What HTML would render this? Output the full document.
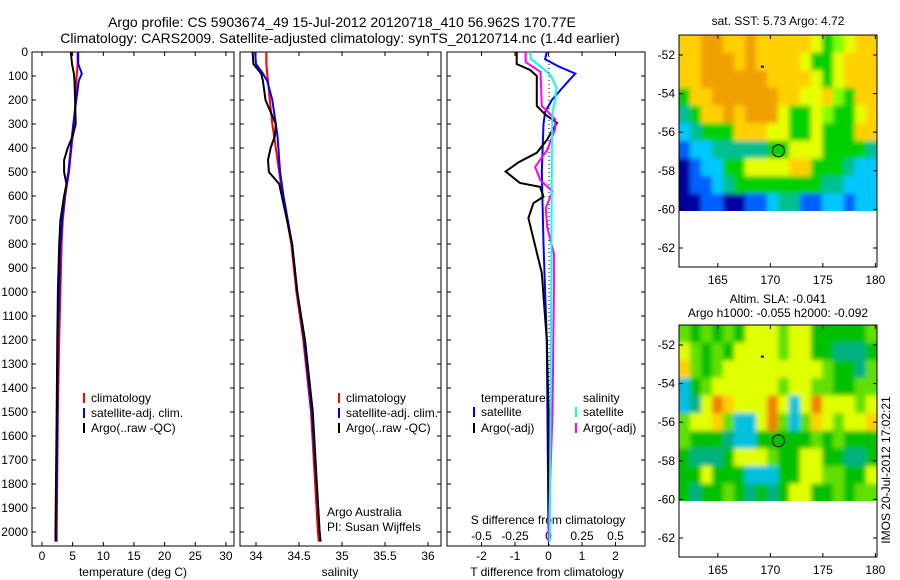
<!DOCTYPE html>
<html><head><meta charset="utf-8"><style>
body{margin:0;background:#fff}
svg{display:block;font-family:"Liberation Sans",sans-serif}
</style></head><body>
<svg id="s" width="900" height="580" viewBox="0 0 900 580">
<defs>
<filter id="bl" x="-5%" y="-5%" width="110%" height="110%"><feGaussianBlur stdDeviation="2.5"/></filter>
<clipPath id="c1"><rect x="679" y="35" width="198" height="176"/></clipPath>
<clipPath id="c2"><rect x="679" y="325" width="198" height="176"/></clipPath>
</defs>
<text x="342" y="27" font-size="14" text-anchor="middle">Argo profile: CS 5903674_49 15-Jul-2012 20120718_410 56.962S 170.77E</text>
<text x="340" y="43" font-size="14" text-anchor="middle">Climatology: CARS2009. Satellite-adjusted climatology: synTS_20120714.nc (1.4d earlier)</text>
</svg>
<script>
// ---- data ----
const depthTS=[0,50,90,120,200,300,350,400,450,500,550,600,700,800,1000,1200,1500,2000,2040];
const tempClim=[5.8,5.8,5.7,5.6,5.5,5.2,5.0,4.8,4.6,4.4,4.1,3.8,3.4,3.2,3.0,2.8,2.6,2.4,2.4];
const tempSat=[5.9,5.9,6.5,6.0,5.6,5.1,4.9,4.7,4.5,4.3,4.0,3.7,3.3,3.0,2.8,2.6,2.5,2.3,2.3];
const tempArgo=[4.7,4.9,5.2,5.3,5.4,5.5,5.0,4.2,3.6,3.6,4.0,3.6,3.0,2.8,2.6,2.5,2.4,2.2,2.2];
const salClim=[34.12,34.12,34.13,34.14,34.16,34.19,34.21,34.23,34.25,34.27,34.29,34.31,34.36,34.41,34.47,34.55,34.64,34.72,34.73];
const salSat=[33.99,34.00,34.08,34.13,34.19,34.23,34.25,34.26,34.27,34.28,34.30,34.32,34.37,34.42,34.48,34.56,34.65,34.74,34.75];
const salArgo=[33.96,33.97,34.06,34.08,34.11,34.23,34.22,34.17,34.14,34.15,34.27,34.30,34.36,34.42,34.48,34.57,34.66,34.74,34.75];
const depthSatT=[0,30,60,90,120,160,200,250,300,500,800,1200,2000,2040];
const diffSatT=[-0.05,-0.1,0.3,0.8,0.6,0.35,0.1,-0.1,-0.15,-0.2,-0.15,-0.05,0,0];
const depthArgoT=[0,50,75,100,225,260,295,330,367,420,460,498,546,562,603,630,692,921,1200,1500,2000,2040];
const diffArgoT=[-0.95,-0.95,-0.55,-0.35,-0.35,-0.1,0.25,0.1,-0.05,-0.35,-0.9,-1.28,-0.85,-0.25,-0.15,-0.45,-0.6,-0.2,-0.05,0,0,0];
const depthSatS=[0,30,60,100,150,200,250,400,1000,2000,2040];
const diffSatS=[-0.14,-0.13,-0.06,0.02,0.06,0.05,0.03,0.025,0.02,0.01,0.01];
const depthArgoS=[0,42,83,225,280,320,408,479,535,580,650,730,840,1000,1500,2000,2040];
const diffArgoS=[-0.17,-0.17,-0.06,-0.05,0.05,0.05,-0.01,-0.1,-0.06,0.03,-0.02,-0.01,0.04,0.04,0.03,0,0];
const depthTicks=[0,100,200,300,400,500,600,700,800,900,1000,1100,1200,1300,1400,1500,1600,1700,1800,1900,2000];
const tempTicks=[0,5,10,15,20,25,30];
const salTicks=[34,34.5,35,35.5,36];
const tdTicks=[-2,-1,0,1,2];
const sdTicks=[-0.5,-0.25,0,0.25,0.5];
const lonTicks=[165,170,175,180];
const latTicks=[-52,-54,-56,-58,-60,-62];
const sstGrid=["YYOOYYOYYYYYyGgyYY","YYOOOYOYYYYyGGyYYY","YYOOOOOOYYYYyGyYYY","GYYOOOOOOYYyyYgGYY","TGYYOYOOOyGGygGGyY","CTGGGYYYyyGGyGGGYY","BCCTTTTTGGyyyGGGGT","NBCCGGyyyyYYGGGTCC","NBBCTGGGGGGGGTTCCC","NNBBNNBBCTTBBCCBCC"];
const slaGrid=["gGgGgGyyygyyGGGGGg","ygGgGyyyygyyGGTTTG","YgGgyyyyyyyyygGGTg","CGgyyyyyygyyggGGgg","CTyOYyyyOyCyOyyygy","gyyYgCCyOgCgYygyyY","gGGGTCCGGGGGgGgGGG","GTTTGyyygGGyyGGTTG","GGyGGGCCCGGyyggGGy","GTGGgGTGTGyyGGgGgg"];
const floatLon=170.77, floatLat=-56.962;

const S=document.getElementById('s');const NS='http://www.w3.org/2000/svg';
function mk(t,a,txt,par){const e=document.createElementNS(NS,t);for(const k in a)e.setAttribute(k,a[k]);if(txt!==undefined&&txt!==null)e.textContent=txt;(par||S).appendChild(e);return e;}
const Y0=52,Ys=0.24,BOT=546;
const yD=d=>Y0+d*Ys;
function panel(x0,x1,name){
  const b=mk('rect',{x:x0,y:Y0,width:x1-x0,height:BOT-Y0,fill:'none',stroke:'#000','stroke-width':1});
  
  depthTicks.forEach(d=>{mk('line',{x1:x0,x2:x0+4,y1:yD(d),y2:yD(d),stroke:'#000'});mk('line',{x1:x1,x2:x1-4,y1:yD(d),y2:yD(d),stroke:'#000'});});
}
function line(xs,ds,fx,col,w,name){
  const p=xs.map((v,i)=>fx(v).toFixed(1)+','+yD(ds[i]).toFixed(1)).join(' ');
  const e=mk('polyline',{points:p,fill:'none',stroke:col,'stroke-width':w});
  
}
function xt(vals,fx,y,lab,name){vals.forEach(v=>{const x=fx(v);mk('line',{x1:x,x2:x,y1:BOT,y2:BOT-4,stroke:'#000'});mk('line',{x1:x,x2:x,y1:Y0,y2:Y0+4,stroke:'#000'});
 const t=mk('text',{x:x,y:y,'font-size':12,'text-anchor':'middle'},lab?lab(v):String(v));});}
// panel 1
const fT=v=>42+6.13*v;
panel(32,234,'temperature-axes');
depthTicks.forEach(d=>{const t=mk('text',{x:28,y:yD(d)+4,'font-size':12,'text-anchor':'end'},String(d));});
xt(tempTicks,fT,560,null,'temp-tick-label');
line(tempClim,depthTS,fT,'#f00',2,'temp-climatology-line');
line(tempSat,depthTS,fT,'#00f',2,'temp-satellite-line');
line(tempArgo,depthTS,fT,'#000',2,'temp-argo-line');
mk('text',{x:133,y:576,'font-size':12,'text-anchor':'middle'},'temperature (deg C)');
// panel 2
const fS=v=>256+86*(v-34);
panel(240,441,'salinity-axes');
xt(salTicks,fS,560,null,'sal-tick-label');
line(salClim,depthTS,fS,'#f00',2,'sal-climatology-line');
line(salSat,depthTS,fS,'#00f',2,'sal-satellite-line');
line(salArgo,depthTS,fS,'#000',2,'sal-argo-line');
mk('text',{x:340,y:576,'font-size':12,'text-anchor':'middle'},'salinity');
mk('text',{x:327,y:516,'font-size':12},'Argo Australia');
mk('text',{x:327,y:531,'font-size':12},'PI: Susan Wijffels');
// panel 3
const fTd=v=>548.5+33.5*v, fSd=v=>548.5+134*v;
panel(447,645,'difference-axes');
xt(tdTicks,fTd,560,null,'tdiff-tick-label');
sdTicks.forEach(v=>{const t=mk('text',{x:fSd(v),y:540,'font-size':12,'text-anchor':'middle'},String(v));});
mk('text',{x:548,y:524,'font-size':12,'text-anchor':'middle'},'S difference from climatology');
mk('text',{x:547,y:576,'font-size':12,'text-anchor':'middle'},'T difference from climatology');
mk('line',{x1:549,x2:549,y1:Y0,y2:BOT,stroke:'#000','stroke-dasharray':'1,3'});
line(diffSatT,depthSatT,fTd,'#00f',2,'tdiff-satellite-line');
line(diffArgoT,depthArgoT,fTd,'#000',2,'tdiff-argo-line');
line(diffArgoS,depthArgoS,fSd,'#f0f',2,'sdiff-argo-line');
line(diffSatS,depthSatS,fSd,'#0ff',2,'sdiff-satellite-line');
// legends
function leg(x,y,col,txt){mk('line',{x1:x,x2:x,y1:y-9,y2:y+1,stroke:col,'stroke-width':2});const t=mk('text',{x:x+7,y:y,'font-size':12},txt);}
[84,339].forEach(lx=>{leg(lx,402,'#f00','climatology');leg(lx,417,'#00f','satellite-adj. clim.');leg(lx,432,'#000','Argo(..raw -QC)');});
mk('text',{x:481,y:402,'font-size':12},'temperature');mk('text',{x:583,y:402,'font-size':12},'salinity');
leg(474,416,'#00f','satellite');leg(474,432,'#000','Argo(-adj)');
leg(576,416,'#0ff','satellite');leg(576,432,'#f0f','Argo(-adj)');
// maps
const COL1={O:'#f0a000',Y:'#ffd000',y:'#e6ff00',G:'#00d000',g:'#80ff00',T:'#00c090',C:'#00c8ff',B:'#0060ff',N:'#0000a0'};
const COL2={O:'#f08000',Y:'#ffd000',y:'#e0ff00',G:'#00c000',g:'#60e000',T:'#00b080',C:'#00c0e0',B:'#0080ff'};
function map(top,grid,cols,name,clip){
  const fx=v=>679+(v-161.3)*10.5, fy=v=>top+20+(-52-v)*19.3;
  const nr=grid.length,nc=grid[0].length;const x0=679,x1=877,y0=top,y1=fy(-60.1);
  const cg=mk('g',{'clip-path':'url(#'+clip+')'});
  const g=mk('g',{filter:'url(#bl)'},null,cg);
  
  
  for(let r=0;r<nr;r++)for(let c=0;c<nc;c++){mk('rect',{x:x0+c*(x1-x0)/nc-(c==0?6:0),y:y0+r*(y1-y0)/nr-(r==0?6:0),width:(x1-x0)/nc+0.5+(c==0||c==nc-1?6:0),height:(y1-y0)/nr+0.5+(r==0||r==nr-1?6:0),fill:cols[grid[r][c]]},null,g);}
  const b=mk('rect',{x:679,y:top,width:198,height:232,fill:'none',stroke:'#000'});
  lonTicks.forEach(v=>{const x=fx(v);mk('line',{x1:x,x2:x,y1:top,y2:top+4,stroke:'#000'});mk('line',{x1:x,x2:x,y1:top+232,y2:top+228,stroke:'#000'});mk('text',{x:x,y:top+249,'font-size':12,'text-anchor':'middle'},String(v));});
  latTicks.forEach(v=>{const y=fy(v);mk('line',{x1:679,x2:683,y1:y,y2:y,stroke:'#000'});mk('line',{x1:877,x2:873,y1:y,y2:y,stroke:'#000'});mk('text',{x:675,y:y+4,'font-size':12,'text-anchor':'end'},String(v));});
  const c=mk('circle',{cx:fx(floatLon),cy:fy(floatLat),r:6,fill:'none',stroke:'#000'});
  mk('rect',{x:fx(169.1),y:fy(-52.55),width:3,height:2,fill:'#000'});
}
map(35,sstGrid,COL1,'sst-map','c1');
map(325,slaGrid,COL2,'sla-map','c2');
mk('text',{x:778,y:25,'font-size':12,'text-anchor':'middle'},'sat. SST: 5.73 Argo: 4.72');
mk('text',{x:778,y:303,'font-size':12,'text-anchor':'middle'},'Altim. SLA: -0.041');
mk('text',{x:778,y:317,'font-size':12,'text-anchor':'middle'},'Argo h1000: -0.055 h2000: -0.092');
mk('text',{x:890,y:470,'font-size':12,'text-anchor':'middle',transform:'rotate(-90 890 470)'},'IMOS 20-Jul-2012 17:02:21');
</script>
</body></html>
